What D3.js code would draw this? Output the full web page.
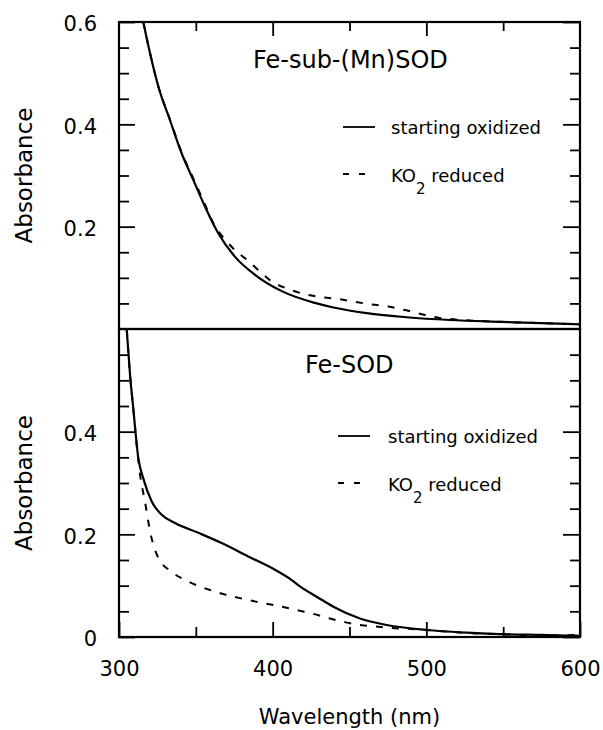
<!DOCTYPE html>
<html>
<head>
<meta charset="utf-8">
<script src="https://cdn.jsdelivr.net/npm/d3@7"></script>
<style>
  html, body { margin: 0; padding: 0; background: #fff; }
  text { font-family: "DejaVu Sans", sans-serif; fill: #000; }
</style>
</head>
<body>
<svg id="chart" width="603" height="730"></svg>
<script>
// ---- data (wavelength nm, absorbance) ----
const xTickLabels = [300, 400, 500, 600];
const xMinorTicks = [350, 450, 550];
const topYLabels = [0.2, 0.4, 0.6];
const bottomYLabels = [0, 0.2, 0.4];
const yMinorTicks = [0.05, 0.1, 0.15, 0.25, 0.3, 0.35, 0.45, 0.5, 0.55];

const panelTitles = ["Fe-sub-(Mn)SOD", "Fe-SOD"];
const seriesNames = ["starting oxidized", "KO", "2", " reduced"];

// Fe-sub-(Mn)SOD, starting oxidized
const topOxWl = [315.8, 320.2, 325.6, 333.2, 340.8, 348.4, 356, 364.6, 375.5, 388.5, 405.9, 427.5, 439.5, 461.2, 487.2, 515.4, 548, 591.3, 600];
const topOxA  = [0.600, 0.539, 0.474, 0.408, 0.343, 0.291, 0.239, 0.187, 0.141, 0.106, 0.074, 0.051, 0.042, 0.031, 0.023, 0.0176, 0.014, 0.010, 0.009];
// Fe-sub-(Mn)SOD, KO2 reduced
const topRedWl = [315.8, 320.2, 325.6, 333.2, 340.8, 348.4, 356, 362, 369, 375.5, 384.2, 391.8, 399.4, 410.2, 421, 433, 443.8, 453.6, 464.4, 475.2, 486, 497, 507.8, 517.5, 548, 591, 600];
const topRedA  = [0.600, 0.539, 0.474, 0.409, 0.345, 0.294, 0.243, 0.203, 0.175, 0.154, 0.133, 0.112, 0.093, 0.078, 0.068, 0.062, 0.058, 0.053, 0.048, 0.044, 0.037, 0.029, 0.022, 0.019, 0.014, 0.010, 0.009];
// Fe-SOD, starting oxidized
const botOxWl = [305, 307.2, 309.3, 312.6, 315.8, 321.3, 327.8, 336.4, 351.6, 366.8, 384.1, 401.5, 412.4, 418, 428.6, 439.5, 456.8, 474.2, 500.2, 526.3, 552.3, 575, 595.6, 600];
const botOxA  = [0.600, 0.510, 0.445, 0.348, 0.309, 0.264, 0.238, 0.222, 0.203, 0.183, 0.157, 0.131, 0.111, 0.098, 0.0785, 0.059, 0.036, 0.0234, 0.0136, 0.0084, 0.0052, 0.004, 0.0025, 0.002];
// Fe-SOD, KO2 reduced
const botRedWl = [305, 307.2, 309.3, 312, 313.7, 316.9, 320.2, 325.6, 334.3, 345.1, 362.5, 384.1, 405.9, 417.8, 426.5, 437.3, 447, 457.9, 468.7, 479.6, 489, 500, 526, 552, 575, 600];
const botRedA  = [0.600, 0.510, 0.445, 0.36, 0.316, 0.264, 0.206, 0.154, 0.127, 0.108, 0.0885, 0.072, 0.059, 0.051, 0.045, 0.036, 0.029, 0.023, 0.020, 0.017, 0.016, 0.0136, 0.008, 0.005, 0.003, 0.004];

// ---- layout ----
const svg = d3.select("#chart");
const L = 119, R = 580;
const panels = [
  { top: 22, bottom: 329, title: panelTitles[0], yLabels: topYLabels,
    ox: topOxWl.map((w, i) => [w, topOxA[i]]), red: topRedWl.map((w, i) => [w, topRedA[i]]),
    titleX: 253, titleY: 68, legX: 343, legY1: 127, legY2: 174, textX: 391, showXLabels: false, topTicks: true },
  { top: 329, bottom: 637, title: panelTitles[1], yLabels: bottomYLabels,
    ox: botOxWl.map((w, i) => [w, botOxA[i]]), red: botRedWl.map((w, i) => [w, botRedA[i]]),
    titleX: 305, titleY: 373, legX: 338, legY1: 436, legY2: 483, textX: 388, showXLabels: true, topTicks: false }
];

const x = d3.scaleLinear().domain([300, 600]).range([L, R]);

panels.forEach((p, pi) => {
  const y = d3.scaleLinear().domain([0, 0.6]).range([p.bottom, p.top]);
  const g = svg.append("g");

  const clipId = "clip" + pi;
  svg.append("clipPath").attr("id", clipId)
    .append("rect").attr("x", L).attr("y", p.top).attr("width", R - L).attr("height", p.bottom - p.top);

  const styleAxis = sel => {
    sel.select(".domain").remove();
    sel.selectAll(".tick line").attr("stroke", "#000").attr("stroke-width", 1.8);
    sel.selectAll(".tick text").style("font-family", "DejaVu Sans").style("font-size", "21px").attr("fill", "#000");
  };
  g.append("g").attr("transform", `translate(${L},0)`)
    .call(d3.axisLeft(y).tickValues(yMinorTicks).tickSize(-10).tickSizeOuter(0).tickFormat(""))
    .call(styleAxis);
  g.append("g").attr("transform", `translate(${L},0)`)
    .call(d3.axisLeft(y).tickValues(p.yLabels).tickSize(-16).tickSizeOuter(0).tickPadding(22)
      .tickFormat(d => d === 0 ? "0" : d3.format(".1f")(d)))
    .call(styleAxis)
    .call(s => s.selectAll(".tick text").attr("dy", "0.42em"));
  g.append("g").attr("transform", `translate(${R},0)`)
    .call(d3.axisRight(y).tickValues(yMinorTicks).tickSize(-10).tickSizeOuter(0).tickFormat(""))
    .call(styleAxis);
  g.append("g").attr("transform", `translate(${R},0)`)
    .call(d3.axisRight(y).tickValues(p.yLabels).tickSize(-17).tickSizeOuter(0).tickFormat(""))
    .call(styleAxis);

  if (p.topTicks) {
    g.append("g").attr("transform", `translate(0,${p.top})`)
      .call(d3.axisTop(x).tickValues(xMinorTicks).tickSize(-9).tickSizeOuter(0).tickFormat(""))
      .call(styleAxis);
    g.append("g").attr("transform", `translate(0,${p.top})`)
      .call(d3.axisTop(x).tickValues([400, 500]).tickSize(-14).tickSizeOuter(0).tickFormat(""))
      .call(styleAxis);
  }
  if (p.showXLabels) {
    g.append("g").attr("transform", `translate(0,${p.bottom})`)
      .call(d3.axisBottom(x).tickValues(xMinorTicks).tickSize(-10).tickSizeOuter(0).tickFormat(""))
      .call(styleAxis);
    g.append("g").attr("transform", `translate(0,${p.bottom})`)
      .call(d3.axisBottom(x).tickValues(xTickLabels).tickSize(-15).tickSizeOuter(0).tickPadding(24).tickFormat(d3.format("d")))
      .call(styleAxis);
  }

  g.append("rect").attr("x", L).attr("y", p.top).attr("width", R - L).attr("height", p.bottom - p.top)
    .attr("fill", "none").attr("stroke", "#000").attr("stroke-width", 2.2);

  const line = d3.line().x(d => x(d[0])).y(d => y(d[1])).curve(d3.curveMonotoneX);
  g.append("path").datum(p.red).attr("d", line).attr("clip-path", `url(#${clipId})`)
    .attr("fill", "none").attr("stroke", "#000").attr("stroke-width", 2).attr("stroke-dasharray", "7,9");
  g.append("path").datum(p.ox).attr("d", line).attr("clip-path", `url(#${clipId})`)
    .attr("fill", "none").attr("stroke", "#000").attr("stroke-width", 2.2);

  g.append("text").attr("x", p.titleX).attr("y", p.titleY).style("font-size", "24px").text(p.title);

  g.append("line").attr("x1", p.legX).attr("x2", p.legX + 32).attr("y1", p.legY1).attr("y2", p.legY1)
    .attr("stroke", "#000").attr("stroke-width", 1.8);
  g.append("text").attr("x", p.textX).attr("y", p.legY1 + 7).style("font-size", "18px").text(seriesNames[0]);
  g.append("line").attr("x1", p.legX).attr("x2", p.legX + 24).attr("y1", p.legY2).attr("y2", p.legY2)
    .attr("stroke", "#000").attr("stroke-width", 1.8).attr("stroke-dasharray", "6,10");
  const t2 = g.append("text").attr("x", p.textX).attr("y", p.legY2 + 8).style("font-size", "18px");
  t2.append("tspan").text(seriesNames[1]);
  t2.append("tspan").attr("dx", 0).attr("dy", 12).style("font-size", "15px").text(seriesNames[2]);
  t2.append("tspan").attr("dx", 0).attr("dy", -12).text(seriesNames[3]);

  const cy = (p.top + p.bottom) / 2;
  g.append("text").attr("transform", `translate(32,${cy}) rotate(-90)`).attr("text-anchor", "middle")
    .style("font-size", "23px").text("Absorbance");
});

svg.append("text").attr("x", (L + R) / 2).attr("y", 724).attr("text-anchor", "middle")
  .style("font-size", "21px").text("Wavelength (nm)");
</script>
</body>
</html>
